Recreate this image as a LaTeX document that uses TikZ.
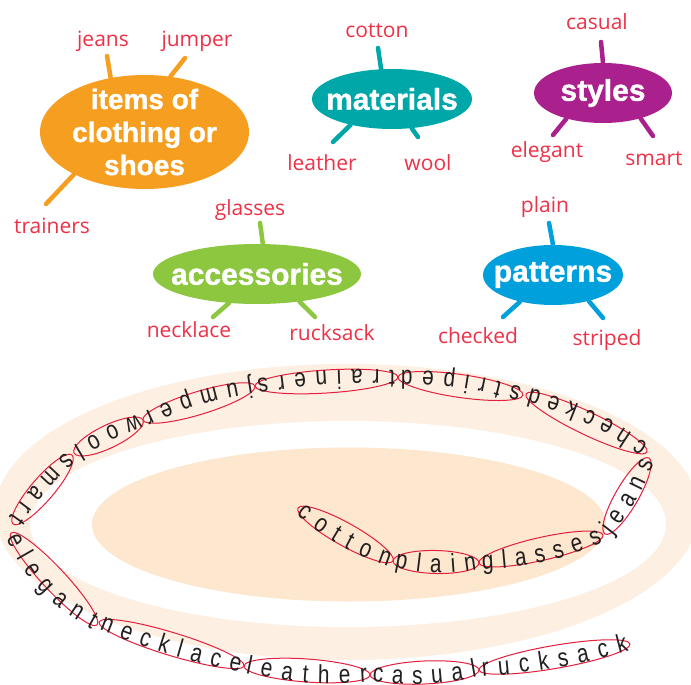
\documentclass[tikz,border=0pt]{standalone}
\usepackage{fontspec}
\setmainfont{Liberation Sans}
\newfontfamily\bubfont[FakeBold=1.2]{Liberation Sans}
\newfontfamily\labfont{Open Sans}
\newfontfamily\snakefont[FakeStretch=0.8]{Liberation Sans}
\usetikzlibrary{shapes.geometric,calc,decorations.text}
\definecolor{corange}{RGB}{246,158,32}
\definecolor{cteal}{RGB}{0,167,169}
\definecolor{cmagenta}{RGB}{170,32,140}
\definecolor{cgreen}{RGB}{141,198,63}
\definecolor{cblue}{RGB}{0,160,220}
\definecolor{labred}{RGB}{237,50,72}
\definecolor{ringred}{RGB}{228,30,60}
\definecolor{snaketext}{RGB}{35,31,32}
\definecolor{glowc}{RGB}{253,240,226}
\definecolor{peach}{RGB}{253,231,206}
\pgfdeclareradialshading{glowshade}{\pgfpoint{0bp}{0bp}}{color(0bp)=(glowc); color(30bp)=(glowc); color(50bp)=(white)}
\newcommand\snakeword[4]{%
  \draw[wordring] let \p1=($(#2)-(#1)$), \n1={atan2(\y1,\x1)}, \n2={veclen(\x1,\y1)/2} in
    ($(#1)!0.5!(#2)$) ellipse [x radius={\n2*1pt}, y radius=11.5pt, rotate=\n1];
  \path[decorate, decoration={text along path, text={|\snakefont\fontsize{26}{26}\selectfont|#4},
    text align=fit to path, raise=-7pt, text color=snaketext}]
    ($(#1)!3pt!(#2)$) to[bend right=#3] ($(#2)!3pt!(#1)$);
}
\begin{document}
\begin{tikzpicture}[x=1pt,y=-1pt,
  bubble/.style={ellipse, inner sep=0pt, draw=none},
  bubtext/.style={text=white, font=\bubfont\bfseries\fontsize{30}{33}\selectfont, align=center, inner sep=0pt},
  lab/.style={text=labred, font=\labfont\fontsize{21}{24}\selectfont, inner sep=0pt, anchor=base},
  leg/.style={line width=4.5pt, line cap=round},
  wordring/.style={draw=ringred, line width=1pt}]
\useasboundingbox (0,0) rectangle (691,685);
\fill[white] (0,0) rectangle (691,685);
% background
\path[shading=glowshade] (347,512) ellipse [x radius=352pt, y radius=148pt];
\fill[white] (348,524) ellipse [x radius=318pt, y radius=103pt];
\fill[peach] (349,524.5) ellipse [x radius=257pt, y radius=77pt];
% bubbles
\node[bubble, fill=corange, minimum width=209pt, minimum height=114pt,
  label={[bubtext, font=\bubfont\bfseries\fontsize{28}{33}\selectfont]center:items of\\clothing or\\shoes}] (items) at (144.5,132) {};
\node[bubble, fill=cteal, minimum width=160pt, minimum height=60pt,
  label={[bubtext]center:materials}] (mat) at (392,99) {};
\node[bubble, fill=cmagenta, minimum width=138pt, minimum height=60pt,
  label={[bubtext]center:styles}] (sty) at (603,93) {};
\node[bubble, fill=cgreen, minimum width=208pt, minimum height=60pt,
  label={[bubtext]center:accessories}] (acc) at (257,274) {};
\node[bubble, fill=cblue, minimum width=140pt, minimum height=60pt,
  label={[bubtext]center:patterns}] (pat) at (553,275) {};
% leg ends
\coordinate (ljeans) at (107,56);
\coordinate (ljumper) at (185,58);
\coordinate (ltrainers) at (46,204);
\coordinate (lcotton) at (378,48);
\coordinate (lleather) at (333,142);
\coordinate (lwool) at (418,137);
\coordinate (lcasual) at (601,42);
\coordinate (lelegant) at (553,135);
\coordinate (lsmart) at (653,136);
\coordinate (lglasses) at (260,223);
\coordinate (lnecklace) at (213,317);
\coordinate (lrucksack) at (315,317);
\coordinate (lplain) at (549,223);
\coordinate (lchecked) at (503,317);
\coordinate (lstriped) at (603,318);
\draw[leg, draw=corange] (ljeans) -- (items.122.6);
\draw[leg, draw=corange] (ljumper) -- (items.65.1);
\draw[leg, draw=corange] (ltrainers) -- (items.211.7);
\draw[leg, draw=cteal] (lcotton) -- (mat.110.8);
\draw[leg, draw=cteal] (lleather) -- (mat.212.7);
\draw[leg, draw=cteal] (lwool) -- (mat.304.6);
\draw[leg, draw=cmagenta] (lcasual) -- (sty.90);
\draw[leg, draw=cmagenta] (lelegant) -- (sty.215.5);
\draw[leg, draw=cmagenta] (lsmart) -- (sty.326);
\draw[leg, draw=cgreen] (lglasses) -- (acc.79);
\draw[leg, draw=cgreen] (lnecklace) -- (acc.226);
\draw[leg, draw=cgreen] (lrucksack) -- (acc.327);
\draw[leg, draw=cblue] (lplain) -- (pat.90);
\draw[leg, draw=cblue] (lchecked) -- (pat.219.5);
\draw[leg, draw=cblue] (lstriped) -- (pat.324.3);
% labels
\node[lab] (tjeans) at (103,47) {jeans};
\node[lab] (tjumper) at (197,47) {jumper};
\node[lab] (ttrainers) at (52,233) {trainers};
\node[lab] (tcotton) at (377,38) {cotton};
\node[lab] (tleather) at (322,170) {leather};
\node[lab] (twool) at (428,170) {wool};
\node[lab] (tcasual) at (597,30) {casual};
\node[lab] (telegant) at (547,157) {elegant};
\node[lab] (tsmart) at (654,165) {smart};
\node[lab] (tglasses) at (250,215) {glasses};
\node[lab] (tnecklace) at (189,337) {necklace};
\node[lab] (trucksack) at (332,340) {rucksack};
\node[lab] (tplain) at (545,212) {plain};
\node[lab] (tchecked) at (478,343) {checked};
\node[lab] (tstriped) at (607,345) {striped};
% word snake
\snakeword{298,508}{393,561}{10}{cotton}
\snakeword{393,561}{479,563}{10}{plain}
\snakeword{479,563}{603,535}{10}{glasses}
\snakeword{605,534}{649,458}{8}{jeans}
\snakeword{647,452}{526,394}{10}{checked}
\snakeword{523,395}{398,377}{8}{striped}
\snakeword{398,377}{255,386}{5}{trainers}
\snakeword{255,386}{143,420}{8}{jumper}
\snakeword{143,420}{74,453}{5}{wool}
\snakeword{72,455}{13,524}{5}{smart}
\snakeword{11,533}{97,625}{18}{elegant}
\snakeword{99,622}{244,666}{5}{necklace}
\snakeword{244,666}{370,675}{8}{leather}
\snakeword{370,675}{479,670}{8}{casual}
\snakeword{479,670}{630,644}{5}{rucksack}
\end{tikzpicture}
\end{document}
